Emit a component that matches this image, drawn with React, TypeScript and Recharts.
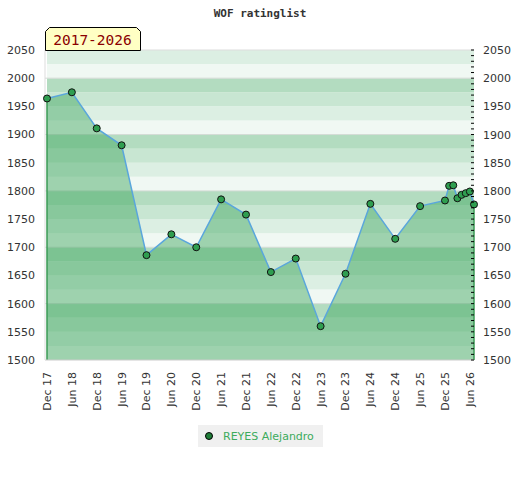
import React from 'react';
import {
  ComposedChart,
  Area,
  Line,
  XAxis,
  YAxis,
  ReferenceArea,
  ReferenceLine,
} from 'recharts';

// months counted from Dec 2017
const months = [0, 6, 12, 18, 24, 30, 36, 42, 48, 54, 60, 66, 72, 78, 84, 90, 96, 97, 98, 99, 100, 101, 102, 103];
const ratings = [1964, 1975, 1911, 1881, 1686, 1723, 1700, 1785, 1758, 1656, 1680, 1560, 1653, 1777, 1715, 1773, 1783, 1809, 1810, 1787, 1793, 1796, 1799, 1776];

const monthTicks = [0, 6, 12, 18, 24, 30, 36, 42, 48, 54, 60, 66, 72, 78, 84, 90, 96, 102];
const monthLabels = ['Dec 17', 'Jun 18', 'Dec 18', 'Jun 19', 'Dec 19', 'Jun 20', 'Dec 20', 'Jun 21', 'Dec 21', 'Jun 22', 'Dec 22', 'Jun 23', 'Dec 23', 'Jun 24', 'Dec 24', 'Jun 25', 'Dec 25', 'Jun 26'];

const ratingTicks = [1500, 1550, 1600, 1650, 1700, 1750, 1800, 1850, 1900, 1950, 2000, 2050];
const playerName = 'REYES Alejandro';
const periodLabel = '2017-2026';
const titleText = 'WOF ratinglist';

const Y_MIN = 1500;
const Y_MAX = 2050;

const data = months.map((m, i) => ({ m, rating: ratings[i] }));

// stripes every 25 points, repeating every 100
const bandColors: Record<number, string> = {
  75: '#b3dcc0',
  50: '#c8e6d2',
  25: '#dcefe3',
  0: '#f0f8f3',
};
const bands: { y1: number; y2: number; fill: string }[] = [];
for (let v = Y_MIN; v < Y_MAX; v += 25) {
  bands.push({ y1: v, y2: v + 25, fill: bandColors[v % 100] });
}
const gridValues = [1600, 1700, 1800, 1900, 2000];

const minorTicks: number[] = [];
for (let v = Y_MIN; v <= Y_MAX; v += 10) minorTicks.push(v);

const font = '"DejaVu Sans", sans-serif';

const XTick = (props: any) => {
  const { x, y, payload } = props;
  const idx = monthTicks.indexOf(payload.value);
  return (
    <text
      x={x + 4}
      y={y}
      transform={`rotate(-90 ${x + 4} ${y})`}
      textAnchor="end"
      fontSize={11}
      fontFamily={font}
      fill="#333"
    >
      {monthLabels[idx]}
    </text>
  );
};

const RightTick = (props: any) => {
  const { x, y, payload } = props;
  const axisX = x - 9;
  const v = payload.value;
  return (
    <g>
      <line x1={axisX - 3} x2={axisX} y1={y} y2={y} stroke="#000" strokeWidth={1} />
      {v % 50 === 0 && (
        <text x={x} y={y} dy="0.36em" textAnchor="start" fontSize={11} fontFamily={font} fill="#333">
          {v}
        </text>
      )}
    </g>
  );
};

const App: React.FC = () => {
  return (
    <div style={{ position: 'fixed', left: 0, top: 0, width: 520, height: 480, background: '#fff' }}>
      <ComposedChart width={520} height={480} data={data} margin={{ top: 50, right: 0, bottom: 60, left: 0 }}>
        <XAxis
          dataKey="m"
          type="number"
          domain={[0, 103]}
          ticks={monthTicks}
          padding={{ left: 2, right: 0 }}
          height={60}
          tickSize={0}
          tickMargin={12}
          tickLine={false}
          axisLine={{ stroke: '#cccccc' }}
          tick={<XTick />}
          interval={0}
        />
        <YAxis
          yAxisId="left"
          orientation="left"
          domain={[Y_MIN, Y_MAX]}
          ticks={ratingTicks}
          width={45}
          tickSize={0}
          tickMargin={10}
          tickLine={false}
          axisLine={{ stroke: '#dddddd' }}
          tick={{ fontSize: 11, fontFamily: font, fill: '#333' }}
          interval={0}
        />
        <YAxis
          yAxisId="right"
          orientation="right"
          domain={[Y_MIN, Y_MAX]}
          ticks={minorTicks}
          width={46}
          tickSize={0}
          tickMargin={9}
          tickLine={false}
          axisLine={false}
          tick={<RightTick />}
          interval={0}
        />
        {bands.map((b) => (
          <ReferenceArea
            key={b.y1}
            yAxisId="left"
            y1={b.y1}
            y2={b.y2}
            fill={b.fill}
            fillOpacity={1}
            stroke="none"
            ifOverflow="hidden"
            zIndex={-60}
          />
        ))}
        {gridValues.map((v) => (
          <ReferenceLine key={v} yAxisId="left" y={v} stroke="#d3dbd5" strokeWidth={1} zIndex={-55} />
        ))}
        <ReferenceLine yAxisId="left" y={Y_MAX} stroke="#dddddd" strokeWidth={1} zIndex={-55} />
        <Area
          yAxisId="left"
          dataKey="rating"
          type="linear"
          fill="#3aa55a"
          fillOpacity={0.45}
          stroke="none"
          baseValue={Y_MIN}
          isAnimationActive={false}
          dot={false}
          activeDot={false}
        />
        <ReferenceLine
          yAxisId="left"
          segment={[
            { x: months[0], y: Y_MIN },
            { x: months[0], y: ratings[0] },
          ]}
          stroke="#3a9a55"
          strokeWidth={1.5}
        />
        <ReferenceLine
          yAxisId="left"
          segment={[
            { x: months[months.length - 1], y: Y_MIN },
            { x: months[months.length - 1], y: ratings[ratings.length - 1] },
          ]}
          stroke="#3a9a55"
          strokeWidth={1.5}
        />
        {/* invisible series so the right axis is drawn */}
        <Line
          yAxisId="right"
          dataKey="rating"
          stroke="none"
          dot={false}
          activeDot={false}
          isAnimationActive={false}
        />
        <Line
          yAxisId="left"
          dataKey="rating"
          type="linear"
          stroke="#5aa6dc"
          strokeWidth={1.5}
          dot={{ r: 3.5, fill: '#2f9e50', stroke: '#111', strokeWidth: 1 }}
          activeDot={false}
          isAnimationActive={false}
        />
      </ComposedChart>
      <svg width={520} height={52} style={{ position: 'absolute', left: 0, top: 0 }}>
        <text
          x={260}
          y={16.5}
          textAnchor="middle"
          fontFamily='"DejaVu Sans Mono", monospace'
          fontWeight="bold"
          fontSize={11}
          fill="#333"
        >
          {titleText}
        </text>
        <polygon
          points="45.5,50.5 45.5,31.5 49.5,27.5 136.5,27.5 140.5,31.5 140.5,50.5"
          fill="#ffffc4"
          stroke="#000"
          strokeWidth={1}
        />
        <text
          x={92.5}
          y={45}
          textAnchor="middle"
          fontFamily='"DejaVu Sans Mono", monospace'
          fontSize={14.5}
          fill="#8b0000"
        >
          {periodLabel}
        </text>
      </svg>
      <div
        style={{
          position: 'absolute',
          left: 198,
          top: 425,
          width: 125,
          height: 22,
          background: '#f0f0f0',
          display: 'flex',
          alignItems: 'center',
          fontFamily: font,
          fontSize: 11,
          color: '#3cab5c',
        }}
      >
        <svg width={25} height={22}>
          <circle cx={11} cy={11} r={3.5} fill="#1f7d38" stroke="#000" strokeWidth={1} />
        </svg>
        <span>{playerName}</span>
      </div>
    </div>
  );
};

export default App;
